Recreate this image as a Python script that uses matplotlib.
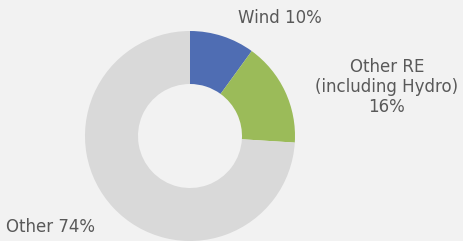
import matplotlib
matplotlib.use("Agg")
import matplotlib.pyplot as plt

labels = ["Wind 10%", "Other RE\n(including Hydro)\n16%", "Other 74%"]
values = [10, 16, 74]
colors = ["#4f6db3", "#9bbb59", "#d9d9d9"]

fig = plt.figure(figsize=(4.63, 2.41), dpi=100, facecolor="#f2f2f2")
ax = fig.add_axes([0, 0, 1, 1])
ax.set_facecolor("#f2f2f2")

ax.pie(values, colors=colors, startangle=90, counterclock=False,
       center=(190, 105), radius=105, frame=True,
       wedgeprops=dict(width=53, edgecolor="none"))
ax.set_xlim(0, 463)
ax.set_ylim(0, 241)
ax.set_aspect("equal")
ax.axis("off")

tc = "#595959"
fs = 12
ax.text(280, 241 - 18, labels[0], ha="center", va="center", fontsize=fs, color=tc)
ax.text(387, 241 - 87, labels[1], ha="center", va="center", fontsize=fs, color=tc, linespacing=1.15)
ax.text(6, 241 - 227, labels[2], ha="left", va="center", fontsize=fs, color=tc)

fig.savefig("out.png", dpi=100, facecolor=fig.get_facecolor())
